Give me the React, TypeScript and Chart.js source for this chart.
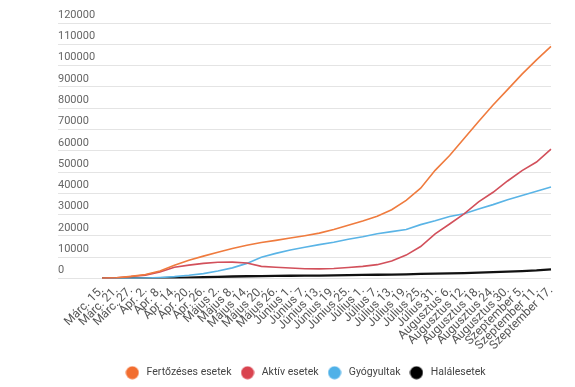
import React, { useEffect, useRef } from "react";
import { Chart, registerables } from "chart.js";

Chart.register(...registerables);

const labels: string[] = [
  "Márc. 15.", "Márc. 21.", "Márc. 27.", "Ápr. 2.", "Ápr. 8.", "Ápr. 14.", "Ápr. 20.", "Ápr. 26.",
  "Május 2.", "Május 8.", "Május 14.", "Május 20.", "Május 26.", "Június 1.", "Június 7.", "Június 13.",
  "Június 19.", "Június 25.", "Július 1.", "Július 7.", "Július 13.", "Július 19.", "Július 25.", "Július 31.",
  "Augusztus 6.", "Augusztus 12.", "Augusztus 18.", "Augusztus 24.", "Augusztus 30.", "Szeptember 5.",
  "Szeptember 11.", "Szeptember 17.",
];

const fertozeses: number[] = [
  130, 370, 1000, 1900, 3500, 6200, 8600, 10500, 12300, 14100, 15600, 16900, 17900, 19000, 20100, 21300,
  23000, 25000, 27000, 29200, 32300, 36700, 42400, 50800, 57800, 65800, 73700, 81500, 88700, 96000,
  102700, 109000,
];

const aktiv: number[] = [
  120, 340, 930, 1600, 3100, 5300, 6300, 7100, 7600, 7700, 7300, 5700, 5300, 4900, 4600, 4500,
  4700, 5200, 5700, 6500, 8200, 11000, 15000, 21000, 25600, 30300, 36000, 40500, 45800, 50700,
  54700, 60800,
];

const gyogyult: number[] = [
  10, 20, 90, 250, 500, 900, 1500, 2300, 3500, 5000, 7100, 10000, 11800, 13400, 14700, 15900,
  17000, 18400, 19600, 21000, 22000, 23000, 25300, 27100, 29100, 30400, 32600, 34700, 37000, 39000,
  41000, 43000,
];

const halal: number[] = [
  0, 0, 30, 90, 200, 330, 450, 580, 740, 950, 1060, 1160, 1220, 1280, 1320, 1390,
  1450, 1570, 1690, 1760, 1860, 1970, 2130, 2270, 2410, 2570, 2800, 3000, 3270, 3500,
  3790, 4300,
];

const seriesNames = ["Fertőzéses esetek", "Aktív esetek", "Gyógyultak", "Halálesetek"];
const seriesColors = ["#ef7b3e", "#d2505b", "#5ab4e6", "#111111"];
const legendDotColors = ["#f26d2f", "#d9434f", "#4fb1e8", "#000000"];

function makeDot(color: string): HTMLCanvasElement {
  const c = document.createElement("canvas");
  c.width = 14;
  c.height = 14;
  const g = c.getContext("2d");
  if (g) {
    g.fillStyle = color;
    g.beginPath();
    g.arc(7, 7, 6.5, 0, Math.PI * 2);
    g.fill();
  }
  return c;
}

export default function App() {
  const ref = useRef<HTMLCanvasElement | null>(null);

  useEffect(() => {
    if (!ref.current) return;
    const values = [fertozeses, aktiv, gyogyult, halal];
    const chart = new Chart(ref.current, {
      type: "line",
      data: {
        labels,
        datasets: values.map((d, i) => ({
          label: seriesNames[i],
          data: d,
          borderColor: seriesColors[i],
          backgroundColor: seriesColors[i],
          borderWidth: i === 3 ? 2.3 : 1.6,
          pointRadius: 0,
          pointHoverRadius: 0,
          pointStyle: makeDot(legendDotColors[i]),
          tension: 0,
          fill: false,
        })),
      },
      options: {
        animation: false,
        responsive: false,
        devicePixelRatio: 1,
        layout: { padding: { left: 58, right: 24, top: 23, bottom: -1 } },
        plugins: {
          tooltip: { enabled: false },
          legend: {
            position: "bottom",
            align: "center",
            labels: {
              usePointStyle: true,
              boxHeight: 10,
              pointStyleWidth: 18,
              padding: 7,
              color: "#444",
              font: { family: "Roboto", size: 10.5 },
            },
          },
        },
        scales: {
          x: {
            grid: { display: false, drawTicks: false },
            border: { display: false },
            afterFit: (s: any) => {
              s.height = 82;
            },
            ticks: {
              autoSkip: false,
              maxRotation: 45,
              minRotation: 45,
              padding: 5,
              color: "#555",
              font: { family: "Roboto", size: 12 },
            },
          },
          y: {
            min: 0,
            max: 120000,
            grid: { color: "#e4e4e4", lineWidth: 1, drawTicks: true, tickLength: 44 },
            border: { display: false },
            afterFit: (s: any) => {
              s.width = 44;
            },
            ticks: {
              stepSize: 10000,
              crossAlign: "far",
              labelOffset: -8,
              padding: 0,
              color: "#666",
              font: { family: "Roboto", size: 11 },
              callback: (v: any) => String(v),
            },
          },
        },
      },
    });
    return () => chart.destroy();
  }, []);

  return (
    <div style={{ position: "fixed", left: 0, top: 0, width: 575, height: 387, background: "#fff" }}>
      <canvas ref={ref} width={575} height={387} style={{ display: "block" }} />
    </div>
  );
}
